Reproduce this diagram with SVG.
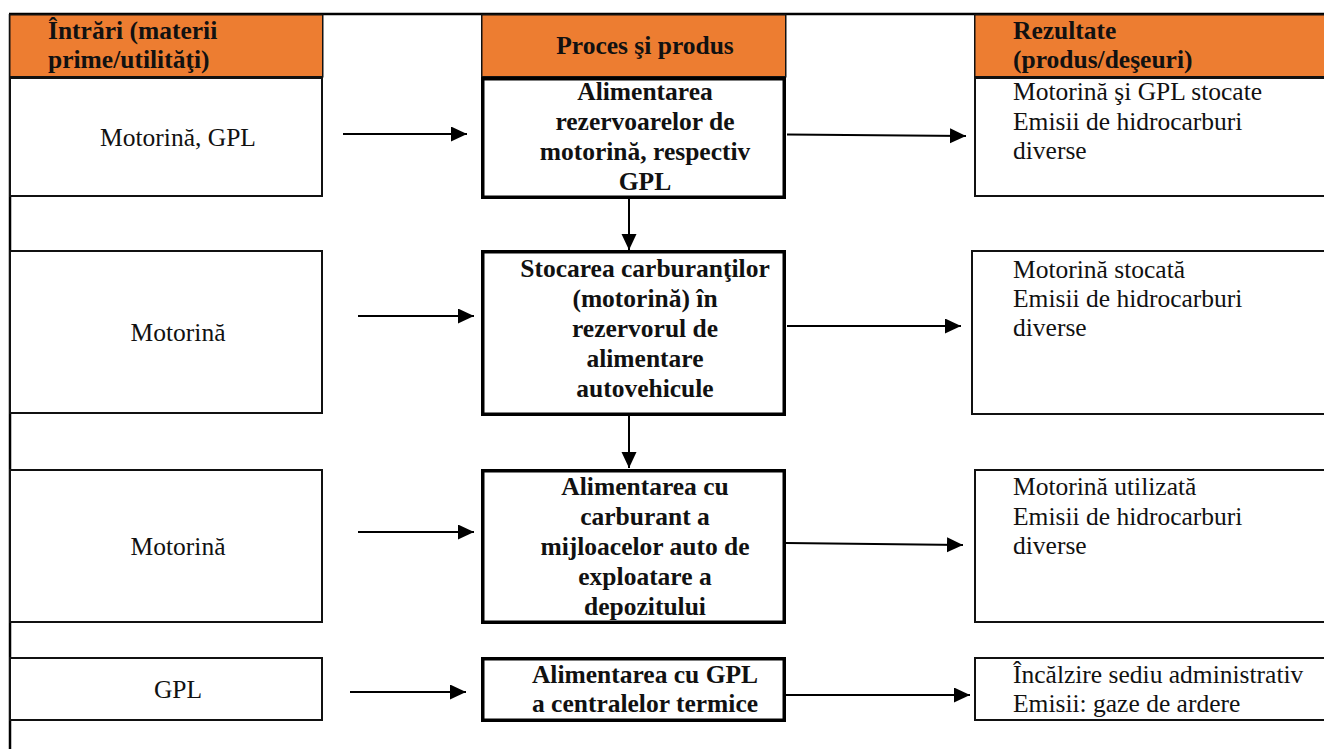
<svg xmlns="http://www.w3.org/2000/svg" width="1324" height="749" viewBox="0 0 1324 749">
<defs>
<style>
text{font-family:"Liberation Serif","Times New Roman",serif;font-size:25.5px;fill:#111}
.b{font-weight:bold}
.c{text-anchor:middle}
.hdr{fill:#ED7D31;stroke:#111;stroke-width:1.5}
.in{fill:#fff;stroke:#111;stroke-width:2}
.pr{fill:#fff;stroke:#000;stroke-width:3.5}
.frame{stroke:#000;stroke-width:2.5;fill:none}
.con{stroke:#000;stroke-width:2;fill:none}
</style>
<marker id="ah" markerUnits="userSpaceOnUse" markerWidth="16" markerHeight="16" refX="16" refY="7.5" orient="auto">
<path d="M0,0 L16,7.5 L0,15 Z" fill="#000"/>
</marker>
</defs>
<rect width="1324" height="749" fill="#fff"/>
<g id="frame">
<line class="frame" x1="9" y1="14" x2="1324" y2="14"/>
<line class="frame" x1="10" y1="14" x2="10" y2="749"/>
</g>
<g id="header-in">
<rect class="hdr" x="9.75" y="14.75" width="313" height="62"/>
<text class="b" x="48" y="39">Întrări (materii</text>
<text class="b" x="48" y="68">prime/utilităţi)</text>
</g>
<g id="header-proc">
<rect class="hdr" x="481.75" y="14.75" width="304" height="62"/>
<text class="b c" x="645" y="54">Proces şi produs</text>
</g>
<g id="header-out">
<rect class="hdr" x="974.75" y="14.75" width="360" height="62"/>
<text class="b" x="1013" y="39">Rezultate</text>
<text class="b" x="1013" y="68">(produs/deşeuri)</text>
</g>
<g id="in1">
<rect class="in" x="10" y="78" width="312" height="118"/>
<text class="c" x="178" y="146">Motorină, GPL</text>
</g>
<g id="in2">
<rect class="in" x="10" y="251" width="312" height="162"/>
<text class="c" x="178" y="341">Motorină</text>
</g>
<g id="in3">
<rect class="in" x="10" y="470" width="312" height="152"/>
<text class="c" x="178" y="555">Motorină</text>
</g>
<g id="in4">
<rect class="in" x="10" y="658" width="312" height="62"/>
<text class="c" x="178" y="698">GPL</text>
</g>
<g id="proc1">
<rect class="pr" x="482.75" y="78.75" width="301.5" height="118.5"/>
<text class="b c" x="645" y="100">Alimentarea</text>
<text class="b c" x="645" y="130">rezervoarelor de</text>
<text class="b c" x="645" y="160">motorină, respectiv</text>
<text class="b c" x="645" y="190">GPL</text>
</g>
<g id="proc2">
<rect class="pr" x="482.75" y="251.75" width="301.5" height="162.5"/>
<text class="b c" x="645" y="277">Stocarea carburanţilor</text>
<text class="b c" x="645" y="307">(motorină) în</text>
<text class="b c" x="645" y="337">rezervorul de</text>
<text class="b c" x="645" y="367">alimentare</text>
<text class="b c" x="645" y="397">autovehicule</text>
</g>
<g id="proc3">
<rect class="pr" x="482.75" y="470.75" width="301.5" height="151.5"/>
<text class="b c" x="645" y="495">Alimentarea cu</text>
<text class="b c" x="645" y="525">carburant a</text>
<text class="b c" x="645" y="555">mijloacelor auto de</text>
<text class="b c" x="645" y="585">exploatare a</text>
<text class="b c" x="645" y="615">depozitului</text>
</g>
<g id="proc4">
<rect class="pr" x="482.75" y="658.75" width="301.5" height="61.5"/>
<text class="b c" x="645" y="683">Alimentarea cu GPL</text>
<text class="b c" x="645" y="712">a centralelor termice</text>
</g>
<g id="out1">
<rect class="in" x="975" y="78" width="360" height="118"/>
<text x="1013" y="100">Motorină şi GPL stocate</text>
<text x="1013" y="129.5">Emisii de hidrocarburi</text>
<text x="1013" y="159">diverse</text>
</g>
<g id="out2">
<rect class="in" x="972" y="251" width="360" height="163"/>
<text x="1013" y="278">Motorină stocată</text>
<text x="1013" y="307">Emisii de hidrocarburi</text>
<text x="1013" y="336">diverse</text>
</g>
<g id="out3">
<rect class="in" x="975" y="470" width="360" height="152"/>
<text x="1013" y="495">Motorină utilizată</text>
<text x="1013" y="524.5">Emisii de hidrocarburi</text>
<text x="1013" y="554">diverse</text>
</g>
<g id="out4">
<rect class="in" x="975" y="658" width="360" height="62"/>
<text x="1013" y="683">Încălzire sediu administrativ</text>
<text x="1013" y="712">Emisii: gaze de ardere</text>
</g>
<g id="connectors">
<line class="con" x1="343" y1="134" x2="467" y2="134" marker-end="url(#ah)"/>
<line class="con" x1="787" y1="134.5" x2="966" y2="136" marker-end="url(#ah)"/>
<line class="con" x1="629" y1="199" x2="629" y2="250" marker-end="url(#ah)"/>
<line class="con" x1="358" y1="316" x2="474" y2="316" marker-end="url(#ah)"/>
<line class="con" x1="787" y1="326" x2="961" y2="326" marker-end="url(#ah)"/>
<line class="con" x1="629" y1="416" x2="629" y2="468" marker-end="url(#ah)"/>
<line class="con" x1="358" y1="532" x2="474" y2="532" marker-end="url(#ah)"/>
<line class="con" x1="786" y1="543" x2="963" y2="545" marker-end="url(#ah)"/>
<line class="con" x1="350" y1="692" x2="466" y2="692" marker-end="url(#ah)"/>
<line class="con" x1="786" y1="695" x2="970" y2="695" marker-end="url(#ah)"/>
</g>
</svg>
